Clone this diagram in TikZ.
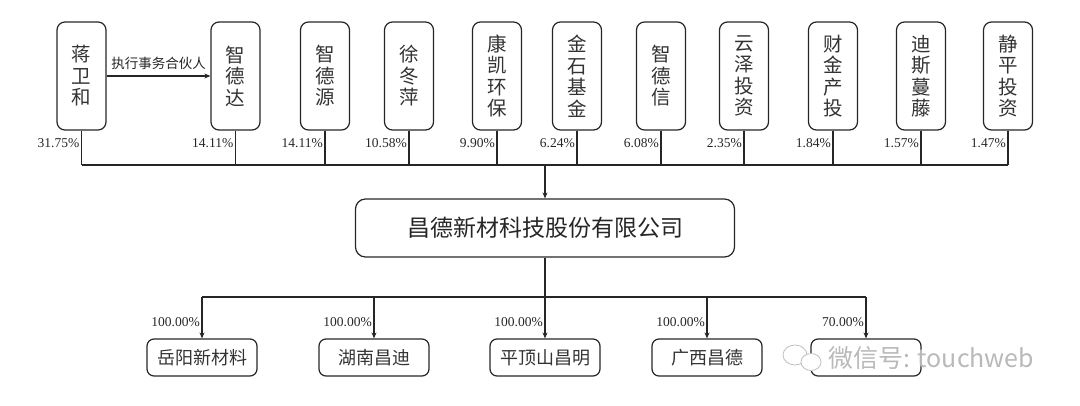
\documentclass[tikz,border=0pt]{standalone}
\usepackage{fontspec}
\setmainfont{Liberation Serif}
\newfontfamily\cjk{Noto Sans CJK SC}
\usetikzlibrary{arrows.meta}
\tikzset{
  topbox/.style={draw=black!85, line width=1.2pt, rounded corners=8pt, minimum width=49pt, minimum height=108pt, inner sep=0pt, align=center, font=\cjk\fontsize{19.5}{21.5}\selectfont, text=black!80},
  mainbox/.style={draw=black!85, line width=1.2pt, rounded corners=10pt, minimum width=379pt, minimum height=58pt, inner sep=0pt, font=\cjk\fontsize{23}{26}\selectfont, text=black!85},
  subbox/.style={draw=black!85, line width=1.2pt, rounded corners=7pt, minimum width=110pt, minimum height=37pt, inner sep=0pt, font=\cjk\fontsize{18}{20}\selectfont, text=black!80},
  pct/.style={font=\fontsize{13.5}{15}\selectfont, text=black!85, inner sep=0pt, anchor=east},
  conn/.style={draw=black!85, line width=1.1pt},
  arr/.style={conn, -{Stealth[length=6pt,width=5pt]}},
  lbl/.style={font=\cjk\fontsize{13.5}{15}\selectfont, text=black!85, inner sep=0pt},
  wm/.style={font=\cjk\fontsize{25}{27}\selectfont, text=gray!55, inner sep=0pt}
}
\begin{document}
\begin{tikzpicture}[x=1pt,y=-1pt]
\useasboundingbox (0,0) rectangle (1080,405);
% top shareholders
\node[topbox] (t1) at (81.5,76) {蒋\\卫\\和};
\node[topbox] (t2) at (235.5,76) {智\\德\\达};
\node[topbox] (t3) at (325,76) {智\\德\\源};
\node[topbox] (t4) at (409,76) {徐\\冬\\萍};
\node[topbox] (t5) at (497,76) {康\\凯\\环\\保};
\node[topbox] (t6) at (577,76) {金\\石\\基\\金};
\node[topbox] (t7) at (661,76) {智\\德\\信};
\node[topbox] (t8) at (744,76) {云\\泽\\投\\资};
\node[topbox] (t9) at (833,76) {财\\金\\产\\投};
\node[topbox] (t10) at (921,76) {迪\\斯\\蔓\\藤};
\node[topbox] (t11) at (1008,76) {静\\平\\投\\资};
% partner arrow
\draw[arr] (t1.east) -- (t2.west) node[lbl, midway, above=6pt] {执行事务合伙人};
% bus
\coordinate (bus) at (545,165);
\foreach \i in {1,...,11} {\draw[conn] (t\i.south) -- (t\i.south |- bus);}
\draw[conn] (t1.south |- bus) -- (t11.south |- bus);
% percentages
\foreach \i/\p in {1/31.75,2/14.11,3/14.11,4/10.58,5/9.90,6/6.24,7/6.08,8/2.35,9/1.84,10/1.57,11/1.47}
  {\node[pct] at ([xshift=-2pt,yshift=-13pt]t\i.south) {\p\%};}
% main company
\node[mainbox] (m) at (545,228) {昌德新材科技股份有限公司};
\draw[arr] (bus) -- (m.north);
% subsidiaries
\node[subbox] (b1) at (202,357.5) {岳阳新材料};
\node[subbox] (b2) at (374,357.5) {湖南昌迪};
\node[subbox] (b3) at (545,357.5) {平顶山昌明};
\node[subbox] (b4) at (707,357.5) {广西昌德};
\node[subbox] (b5) at (866,357.5) {};
\coordinate (bus2) at (545,297);
\draw[arr] (m.south) -- (b3.north);
\draw[conn] (b1.north |- bus2) -- (b5.north |- bus2);
\foreach \i in {1,2,4,5} {\draw[arr] (b\i.north |- bus2) -- (b\i.north);}
\foreach \i/\p in {1/100.00,2/100.00,3/100.00,4/100.00,5/70.00}
  {\node[pct] at ([xshift=-2pt,yshift=16pt]b\i.north) {\p\%};}
% watermark
\draw[gray!50, line width=0.8pt] (795,355) ellipse (12pt and 10pt);
\draw[gray!50, line width=0.8pt, fill=white] (811,362) ellipse (10pt and 8.5pt);
\node[wm, anchor=west] (w) at (828,358) {微信号: touchweb};
\end{tikzpicture}
\end{document}
